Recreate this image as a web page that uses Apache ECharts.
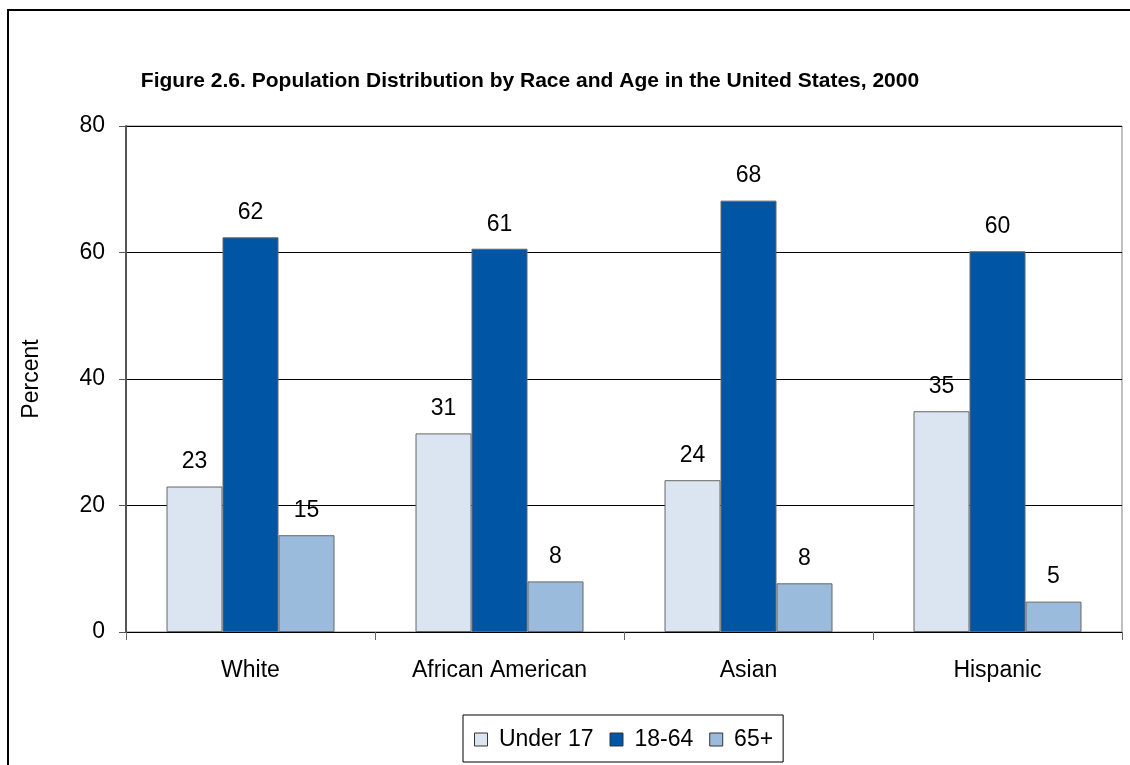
<!DOCTYPE html>
<html>
<head>
<meta charset="utf-8">
<script src="https://cdn.jsdelivr.net/npm/echarts@6/dist/echarts.min.js"></script>
<style>html,body{margin:0;padding:0;background:#fff}#c{width:1130px;height:765px}</style>
</head>
<body>
<div id="c"></div>
<script>
const categories = ['White', 'African American', 'Asian', 'Hispanic'];
const under17 = [23.0, 31.4, 24.0, 34.9];
const age18to64 = [62.4, 60.6, 68.2, 60.2];
const age65plus = [15.3, 8.0, 7.7, 4.8];
const yTicks = [0, 20, 40, 60, 80];

const FONT = '"Liberation Sans", Arial, sans-serif';
const chart = echarts.init(document.getElementById('c'), null, {renderer: 'canvas'});
const lbl = {
  show: true, position: 'top', distance: 13,
  fontFamily: FONT, fontSize: 23, color: '#000',
  formatter: p => Math.round(p.value)
};
function mk(name, data, color) {
  return {
    name, type: 'bar', data, barWidth: 56, barGap: '0%',
    itemStyle: {color, borderColor: '#666', borderWidth: 1},
    label: lbl
  };
}
chart.setOption({
  animation: false,
  backgroundColor: '#fff',
  title: {
    text: 'Figure 2.6. Population Distribution by Race and Age in the United States, 2000',
    left: 525, top: 66, textAlign: 'center',
    textStyle: {fontFamily: FONT, fontSize: 21, fontWeight: 'bold', color: '#000'}
  },
  graphic: [{
    type: 'rect', shape: {x: 8, y: 10, width: 1300, height: 1000},
    style: {fill: 'none', stroke: '#000', lineWidth: 2}, silent: true
  }],
  grid: {left: 126, right: 8, top: 126, bottom: 133, show: true, borderColor: '#808080', borderWidth: 1, backgroundColor: 'transparent'},
  legend: {
    left: 463, top: 715, padding: [13, 10, 11, 11], itemGap: 16,
    itemWidth: 13, itemHeight: 13, icon: 'rect',
    borderColor: '#000', borderWidth: 1,
    formatter: n => ' ' + n,
    textStyle: {fontFamily: FONT, fontSize: 23, color: '#000'},
    itemStyle: {borderColor: '#333', borderWidth: 1}
  },
  xAxis: {
    type: 'category', data: categories,
    axisLine: {lineStyle: {color: '#000', width: 1}},
    axisTick: {show: true, length: 8, lineStyle: {color: '#666'}},
    axisLabel: {fontFamily: FONT, fontSize: 23, color: '#000', margin: 27}
  },
  yAxis: {
    type: 'value', min: yTicks[0], max: yTicks[yTicks.length - 1], interval: 20,
    name: 'Percent', nameLocation: 'middle', nameGap: 83, nameRotate: 90,
    nameTextStyle: {fontFamily: FONT, fontSize: 23, color: '#000'},
    axisLine: {show: true, lineStyle: {color: '#555', width: 2}},
    axisTick: {show: true, length: 7, lineStyle: {color: '#555'}},
    axisLabel: {fontFamily: FONT, fontSize: 23, color: '#000', margin: 21},
    splitLine: {show: true, lineStyle: {color: '#000', width: 1}}
  },
  series: [
    mk('Under 17', under17, '#dbe5f1'),
    mk('18-64', age18to64, '#0055a5'),
    mk('65+', age65plus, '#9bbbdc')
  ]
});
</script>
</body>
</html>
